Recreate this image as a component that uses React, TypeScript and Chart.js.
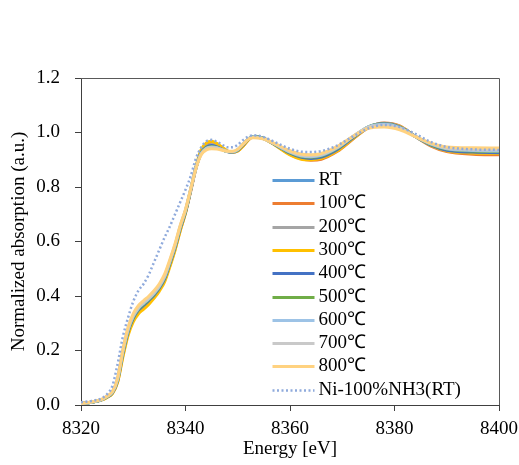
import React, { useEffect, useRef } from "react";
import { Chart, registerables } from "chart.js";

Chart.register(...registerables);

const energies = [8320, 8322, 8324, 8325, 8326, 8327, 8328, 8329, 8330, 8331, 8332, 8333, 8334, 8335, 8336, 8337, 8338, 8339, 8340, 8341, 8342, 8343, 8344, 8345, 8346, 8347, 8348, 8349, 8350, 8351, 8352, 8353, 8355, 8357, 8360, 8362, 8364, 8366, 8369, 8372, 8375, 8378, 8381, 8384, 8387, 8390, 8395, 8400];

const seriesNames = ["RT", "100℃", "200℃", "300℃", "400℃", "500℃", "600℃", "700℃", "800℃", "Ni-100%NH3(RT)"];

const seriesColors = ["#5B9BD5", "#ED7D31", "#A5A5A5", "#FFC000", "#4472C4", "#70AD47", "#9DC3E6", "#C9C9C9", "#FFD280", "#8FAADC"];

const rtValues = [0.005, 0.010, 0.020, 0.030, 0.045, 0.090, 0.190, 0.270, 0.320, 0.350, 0.368, 0.385, 0.405, 0.430, 0.465, 0.520, 0.580, 0.650, 0.710, 0.790, 0.870, 0.925, 0.945, 0.950, 0.946, 0.938, 0.930, 0.928, 0.935, 0.955, 0.975, 0.985, 0.978, 0.958, 0.926, 0.912, 0.907, 0.912, 0.938, 0.980, 1.020, 1.032, 1.020, 0.985, 0.955, 0.937, 0.930, 0.928];
const t100Values = [0.006, 0.011, 0.020, 0.029, 0.043, 0.085, 0.180, 0.262, 0.315, 0.345, 0.363, 0.380, 0.400, 0.425, 0.458, 0.512, 0.572, 0.642, 0.705, 0.785, 0.868, 0.930, 0.955, 0.962, 0.956, 0.944, 0.932, 0.928, 0.932, 0.950, 0.972, 0.984, 0.978, 0.956, 0.920, 0.904, 0.898, 0.902, 0.930, 0.975, 1.018, 1.035, 1.024, 0.985, 0.950, 0.930, 0.920, 0.918];
const t200Values = [0.005, 0.010, 0.019, 0.029, 0.044, 0.088, 0.186, 0.267, 0.318, 0.348, 0.366, 0.383, 0.403, 0.428, 0.462, 0.517, 0.577, 0.647, 0.708, 0.788, 0.869, 0.928, 0.950, 0.956, 0.951, 0.941, 0.931, 0.928, 0.934, 0.953, 0.974, 0.985, 0.978, 0.957, 0.922, 0.908, 0.903, 0.907, 0.934, 0.978, 1.019, 1.034, 1.022, 0.985, 0.953, 0.934, 0.926, 0.924];
const t300Values = [0.005, 0.010, 0.019, 0.028, 0.042, 0.083, 0.175, 0.255, 0.305, 0.335, 0.352, 0.370, 0.392, 0.418, 0.452, 0.507, 0.568, 0.640, 0.705, 0.790, 0.875, 0.937, 0.962, 0.968, 0.960, 0.946, 0.933, 0.928, 0.932, 0.950, 0.972, 0.984, 0.977, 0.955, 0.918, 0.903, 0.900, 0.905, 0.932, 0.977, 1.018, 1.033, 1.022, 0.986, 0.953, 0.933, 0.925, 0.923];
const t400Values = [0.005, 0.010, 0.020, 0.030, 0.045, 0.090, 0.188, 0.268, 0.318, 0.348, 0.366, 0.384, 0.404, 0.429, 0.463, 0.518, 0.578, 0.648, 0.709, 0.789, 0.870, 0.926, 0.947, 0.952, 0.947, 0.938, 0.930, 0.928, 0.935, 0.954, 0.975, 0.985, 0.978, 0.957, 0.924, 0.910, 0.905, 0.910, 0.937, 0.980, 1.020, 1.033, 1.021, 0.985, 0.954, 0.935, 0.928, 0.926];
const t500Values = [0.005, 0.010, 0.020, 0.030, 0.046, 0.092, 0.192, 0.272, 0.322, 0.352, 0.370, 0.387, 0.407, 0.432, 0.467, 0.522, 0.582, 0.652, 0.712, 0.791, 0.870, 0.924, 0.944, 0.949, 0.945, 0.937, 0.930, 0.929, 0.936, 0.956, 0.976, 0.985, 0.978, 0.958, 0.926, 0.913, 0.909, 0.914, 0.941, 0.983, 1.021, 1.031, 1.019, 0.985, 0.956, 0.939, 0.932, 0.930];
const t600Values = [0.005, 0.010, 0.020, 0.031, 0.047, 0.094, 0.195, 0.275, 0.325, 0.355, 0.373, 0.390, 0.410, 0.435, 0.470, 0.525, 0.585, 0.655, 0.714, 0.792, 0.870, 0.922, 0.942, 0.947, 0.944, 0.937, 0.930, 0.929, 0.937, 0.957, 0.976, 0.984, 0.977, 0.958, 0.928, 0.915, 0.911, 0.916, 0.943, 0.984, 1.021, 1.030, 1.018, 0.985, 0.957, 0.940, 0.934, 0.932];
const t700Values = [0.005, 0.011, 0.021, 0.032, 0.048, 0.096, 0.198, 0.278, 0.328, 0.358, 0.376, 0.393, 0.413, 0.438, 0.473, 0.528, 0.588, 0.657, 0.716, 0.793, 0.870, 0.921, 0.941, 0.945, 0.943, 0.937, 0.931, 0.930, 0.938, 0.957, 0.976, 0.983, 0.977, 0.959, 0.930, 0.917, 0.914, 0.919, 0.945, 0.985, 1.020, 1.027, 1.016, 0.985, 0.959, 0.942, 0.937, 0.936];
const t800Values = [0.006, 0.011, 0.022, 0.033, 0.050, 0.100, 0.203, 0.285, 0.335, 0.365, 0.383, 0.400, 0.420, 0.445, 0.480, 0.533, 0.592, 0.660, 0.718, 0.793, 0.868, 0.918, 0.936, 0.940, 0.939, 0.935, 0.931, 0.931, 0.939, 0.957, 0.975, 0.981, 0.976, 0.960, 0.933, 0.921, 0.918, 0.923, 0.948, 0.985, 1.015, 1.020, 1.010, 0.985, 0.961, 0.947, 0.944, 0.943];
const nh3Values = [0.010, 0.015, 0.025, 0.040, 0.070, 0.150, 0.250, 0.320, 0.380, 0.420, 0.445, 0.480, 0.525, 0.570, 0.615, 0.655, 0.700, 0.745, 0.790, 0.840, 0.905, 0.945, 0.968, 0.973, 0.966, 0.955, 0.946, 0.946, 0.955, 0.972, 0.985, 0.990, 0.983, 0.966, 0.940, 0.930, 0.928, 0.932, 0.952, 0.985, 1.015, 1.028, 1.020, 0.995, 0.965, 0.947, 0.938, 0.936];

const xMin = 8320;
const xMax = 8400;
const xStep = 20;
const yMin = 0;
const yMax = 1.2;
const yStep = 0.2;

const FONT = "'Times New Roman', 'Liberation Serif', serif";
const FONT_SIZE = 19;
const AXIS_COLOR = "#404040";

const framePlugin = {
  id: "frame",
  beforeDatasetsDraw(chart: any) {
    const { ctx, chartArea } = chart;
    ctx.save();
    ctx.strokeStyle = "#595959";
    ctx.lineWidth = 1;
    ctx.beginPath();
    ctx.moveTo(chartArea.left, chartArea.top + 0.5);
    ctx.lineTo(chartArea.right + 0.5, chartArea.top + 0.5);
    ctx.lineTo(chartArea.right + 0.5, chartArea.bottom);
    ctx.stroke();
    ctx.restore();
  },
};

const legendPlugin = {
  id: "insideLegend",
  afterDatasetsDraw(chart: any) {
    const { ctx, chartArea } = chart;
    const x0 = chartArea.left + 191.5;
    const lineLen = 42;
    chart.data.datasets.forEach((ds: any, i: number) => {
      const y = Math.round(chartArea.top + 102 + i * 23.3) + 0.5;
      ctx.save();
      ctx.strokeStyle = ds.borderColor;
      ctx.lineWidth = ds.borderWidth;
      ctx.setLineDash(ds.borderDash || []);
      ctx.beginPath();
      ctx.moveTo(x0, y);
      ctx.lineTo(x0 + lineLen, y);
      ctx.stroke();
      ctx.setLineDash([]);
      ctx.fillStyle = "#000000";
      ctx.font = `${FONT_SIZE}px ${FONT}`;
      ctx.textBaseline = "middle";
      ctx.textAlign = "left";
      ctx.fillText(ds.label, x0 + lineLen + 4, y);
      ctx.restore();
    });
  },
};

export default function App() {
  const ref = useRef<HTMLCanvasElement>(null);

  useEffect(() => {
    if (!ref.current) return;
    const values = [rtValues, t100Values, t200Values, t300Values, t400Values, t500Values, t600Values, t700Values, t800Values, nh3Values];
    const datasets = seriesNames.map((name, i) => ({
      label: name,
      data: energies.map((e, j) => ({ x: e, y: values[i][j] })),
      borderColor: seriesColors[i],
      backgroundColor: seriesColors[i],
      borderWidth: i === 9 ? 2.5 : 3,
      borderDash: i === 9 ? [2, 2.5] : [],
      pointRadius: 0,
      fill: false,
      cubicInterpolationMode: "monotone" as const,
      order: seriesNames.length - 1 - i,
    }));

    const chart = new Chart(ref.current, {
      type: "line",
      data: { datasets },
      plugins: [framePlugin, legendPlugin],
      options: {
        animation: false,
        responsive: false,
        devicePixelRatio: 1,
        layout: { padding: { left: 0, top: 78, right: 20, bottom: 0 } },
        plugins: {
          legend: { display: false },
          tooltip: { enabled: false },
          title: { display: false },
        },
        scales: {
          x: {
            type: "linear",
            min: xMin,
            max: xMax,
            afterFit: (scale: any) => {
              scale.height = 60;
              scale.paddingLeft = 0;
              scale.paddingRight = 0;
            },
            ticks: {
              stepSize: xStep,
              color: "#000000",
              padding: 7,
              font: { family: FONT, size: FONT_SIZE },
              maxRotation: 0,
              callback: (v: any) => String(v),
            },
            grid: {
              display: true,
              drawOnChartArea: false,
              drawTicks: true,
              tickLength: 6,
              color: AXIS_COLOR,
            },
            border: { display: true, color: AXIS_COLOR, width: 1 },
            title: {
              display: true,
              text: "Energy [eV]",
              color: "#000000",
              font: { family: FONT, size: FONT_SIZE },
              padding: { top: 0, bottom: 5 },
            },
          },
          y: {
            type: "linear",
            min: yMin,
            max: yMax,
            afterFit: (scale: any) => {
              scale.width = 81;
              scale.paddingTop = 0;
              scale.paddingBottom = 0;
            },
            ticks: {
              stepSize: yStep,
              color: "#000000",
              padding: 15,
              font: { family: FONT, size: FONT_SIZE },
              callback: (v: any) => Number(v).toFixed(1),
            },
            grid: {
              display: true,
              drawOnChartArea: false,
              drawTicks: true,
              tickLength: 6,
              color: AXIS_COLOR,
            },
            border: { display: true, color: AXIS_COLOR, width: 1 },
            title: {
              display: true,
              text: "Normalized absorption (a.u.)",
              color: "#000000",
              font: { family: FONT, size: FONT_SIZE },
              padding: { top: 8, bottom: 0 },
            },
          },
        },
      },
    });
    return () => chart.destroy();
  }, []);

  return (
    <div style={{ position: "fixed", left: 0, top: 0, width: 519, height: 465, background: "#ffffff" }}>
      <canvas ref={ref} width={519} height={465} style={{ display: "block", width: 519, height: 465 }} />
    </div>
  );
}
